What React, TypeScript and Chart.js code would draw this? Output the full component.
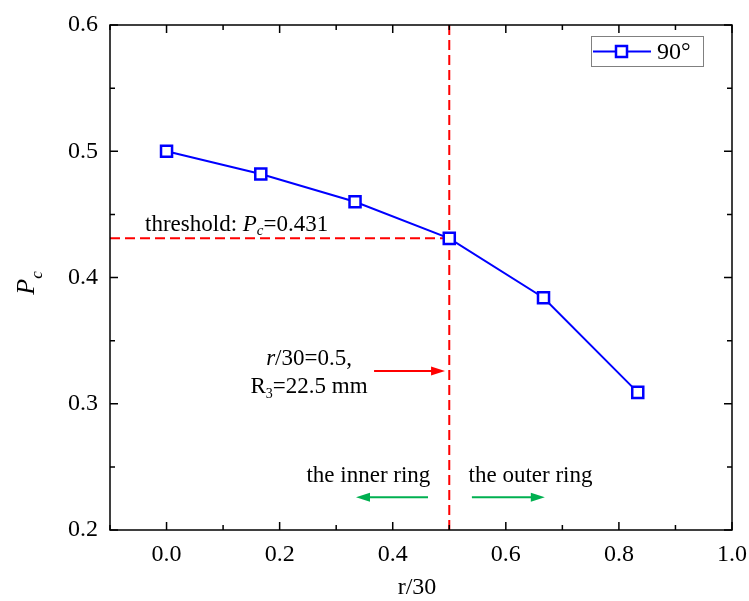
import React, { useEffect, useRef } from "react";
import { Chart, registerables } from "chart.js";

Chart.register(...registerables);

// ---- data ----
const xValues = [0, 1 / 6, 1 / 3, 0.5, 2 / 3, 5 / 6];
const pcValues = [0.5, 0.482, 0.46, 0.431, 0.384, 0.309];
const seriesLabel = "90°";
const xMajorTicks = [0, 0.2, 0.4, 0.6, 0.8, 1.0];
const xMinorTicks = [-0.1, 0.1, 0.3, 0.5, 0.7, 0.9];
const yMajorTicks = [0.2, 0.3, 0.4, 0.5, 0.6];
const yMinorTicks = [0.25, 0.35, 0.45, 0.55];
const thresholdValue = 0.431;
const boundaryX = 0.5;

const SERIF = '"Liberation Serif", "Times New Roman", serif';
const BLUE = "#0000ff";
const RED = "#ff0000";
const GREEN = "#00b050";
const ANN = 23;

type Run = { text: string; font: string; dy?: number };

function drawRuns(ctx: CanvasRenderingContext2D, runs: Run[], x: number, y: number, align: "left" | "center") {
  ctx.textBaseline = "alphabetic";
  ctx.textAlign = "left";
  let total = 0;
  const widths = runs.map((r) => {
    ctx.font = r.font;
    const w = ctx.measureText(r.text).width;
    total += w;
    return w;
  });
  let cx = align === "center" ? x - total / 2 : x;
  runs.forEach((r, i) => {
    ctx.font = r.font;
    ctx.fillText(r.text, cx, y + (r.dy || 0));
    cx += widths[i];
  });
}

function arrow(ctx: CanvasRenderingContext2D, x1: number, y1: number, x2: number, y2: number, color: string) {
  const dir = Math.sign(x2 - x1);
  const headLen = 14;
  const headHalf = 4.5;
  ctx.save();
  ctx.strokeStyle = color;
  ctx.fillStyle = color;
  ctx.lineWidth = 2;
  ctx.setLineDash([]);
  ctx.beginPath();
  ctx.moveTo(x1, y1);
  ctx.lineTo(x2 - dir * headLen * 0.8, y2);
  ctx.stroke();
  ctx.beginPath();
  ctx.moveTo(x2, y2);
  ctx.lineTo(x2 - dir * headLen, y2 - headHalf);
  ctx.lineTo(x2 - dir * headLen, y2 + headHalf);
  ctx.closePath();
  ctx.fill();
  ctx.restore();
}

const decorPlugin = {
  id: "decor",
  beforeDatasetsDraw(chart: any) {
    const { ctx, chartArea, scales } = chart;
    const xs = scales.x;
    const ys = scales.y;
    const px = xs.getPixelForValue(boundaryX);
    const py = ys.getPixelForValue(thresholdValue);
    ctx.save();
    ctx.strokeStyle = RED;
    ctx.lineWidth = 2;
    ctx.setLineDash([10, 5]);
    ctx.beginPath();
    ctx.moveTo(chartArea.left, py);
    ctx.lineTo(px, py);
    ctx.stroke();
    ctx.beginPath();
    ctx.moveTo(px, chartArea.top);
    ctx.lineTo(px, chartArea.bottom);
    ctx.stroke();
    ctx.restore();
  },
  afterDraw(chart: any) {
    const { ctx, chartArea, scales } = chart;
    const xs = scales.x;
    const ys = scales.y;
    const { left, right, top, bottom } = chartArea;
    ctx.save();
    // frame
    ctx.strokeStyle = "#000";
    ctx.lineWidth = 1.5;
    ctx.setLineDash([]);
    ctx.strokeRect(left, top, right - left, bottom - top);
    // ticks (inward, mirrored)
    const major = 8;
    const minor = 5;
    ctx.beginPath();
    const xt = (v: number, len: number) => {
      const p = xs.getPixelForValue(v);
      ctx.moveTo(p, bottom);
      ctx.lineTo(p, bottom - len);
      ctx.moveTo(p, top);
      ctx.lineTo(p, top + len);
    };
    const yt = (v: number, len: number) => {
      const p = ys.getPixelForValue(v);
      ctx.moveTo(left, p);
      ctx.lineTo(left + len, p);
      ctx.moveTo(right, p);
      ctx.lineTo(right - len, p);
    };
    xMajorTicks.forEach((v) => xt(v, major));
    xMinorTicks.forEach((v) => xt(v, minor));
    yMajorTicks.forEach((v) => yt(v, major));
    yMinorTicks.forEach((v) => yt(v, minor));
    ctx.stroke();

    ctx.fillStyle = "#000";
    // axis titles
    drawRuns(ctx, [{ text: "r/30", font: `24px ${SERIF}` }], (left + right) / 2 - 4, 594, "center");
    ctx.save();
    ctx.translate(34, 283);
    ctx.rotate(-Math.PI / 2);
    drawRuns(
      ctx,
      [
        { text: "P", font: `italic 26px ${SERIF}` },
        { text: "c", font: `italic 17px ${SERIF}`, dy: 8 },
      ],
      0,
      0,
      "center"
    );
    ctx.restore();

    // threshold label
    drawRuns(
      ctx,
      [
        { text: "threshold: ", font: `${ANN}px ${SERIF}` },
        { text: "P", font: `italic ${ANN}px ${SERIF}` },
        { text: "c", font: `italic 15px ${SERIF}`, dy: 4 },
        { text: "=0.431", font: `${ANN}px ${SERIF}` },
      ],
      xs.getPixelForValue(-0.038),
      ys.getPixelForValue(0.4368),
      "left"
    );

    // boundary annotation
    const annX = xs.getPixelForValue(0.252);
    drawRuns(
      ctx,
      [
        { text: "r", font: `italic ${ANN}px ${SERIF}` },
        { text: "/30=0.5,", font: `${ANN}px ${SERIF}` },
      ],
      annX,
      ys.getPixelForValue(0.3307),
      "center"
    );
    drawRuns(
      ctx,
      [
        { text: "R", font: `${ANN}px ${SERIF}` },
        { text: "3", font: `14px ${SERIF}`, dy: 5 },
        { text: "=22.5 mm", font: `${ANN}px ${SERIF}` },
      ],
      annX,
      ys.getPixelForValue(0.3085),
      "center"
    );
    const ay = ys.getPixelForValue(0.326);
    arrow(ctx, xs.getPixelForValue(0.367), ay, xs.getPixelForValue(0.4925), ay, RED);

    // ring labels
    const ringY = ys.getPixelForValue(0.238);
    drawRuns(ctx, [{ text: "the inner ring", font: `${ANN}px ${SERIF}` }], xs.getPixelForValue(0.357), ringY, "center");
    drawRuns(ctx, [{ text: "the outer ring", font: `${ANN}px ${SERIF}` }], xs.getPixelForValue(0.6437), ringY, "center");
    const gy = ys.getPixelForValue(0.226);
    arrow(ctx, xs.getPixelForValue(0.4624), gy, xs.getPixelForValue(0.335), gy, GREEN);
    arrow(ctx, xs.getPixelForValue(0.54), gy, xs.getPixelForValue(0.669), gy, GREEN);

    // legend
    const lx = right - 141;
    const lyTop = top + 11;
    ctx.strokeStyle = "#808080";
    ctx.lineWidth = 1;
    ctx.strokeRect(lx + 0.5, lyTop + 0.5, 112, 30);
    const ly = lyTop + 15.5;
    ctx.strokeStyle = BLUE;
    ctx.lineWidth = 2;
    ctx.beginPath();
    ctx.moveTo(lx + 2, ly);
    ctx.lineTo(lx + 60, ly);
    ctx.stroke();
    ctx.fillStyle = "#fff";
    ctx.lineWidth = 2.5;
    ctx.fillRect(lx + 25, ly - 5.5, 11, 11);
    ctx.strokeRect(lx + 25, ly - 5.5, 11, 11);
    ctx.fillStyle = "#000";
    ctx.textBaseline = "middle";
    ctx.textAlign = "left";
    ctx.font = `24px ${SERIF}`;
    ctx.fillText(seriesLabel, lx + 66, ly + 1);
    ctx.restore();
  },
};

export default function App() {
  const ref = useRef<HTMLCanvasElement | null>(null);
  useEffect(() => {
    if (!ref.current) return;
    const chart = new Chart(ref.current, {
      type: "scatter",
      data: {
        datasets: [
          {
            label: seriesLabel,
            data: xValues.map((x, i) => ({ x, y: pcValues[i] })),
            showLine: true,
            borderColor: BLUE,
            backgroundColor: "#ffffff",
            borderWidth: 2,
            pointStyle: "rect",
            pointRadius: 7.8,
            pointBorderWidth: 2.5,
            pointBorderColor: BLUE,
            pointBackgroundColor: "#ffffff",
          } as any,
        ],
      },
      options: {
        animation: false,
        responsive: false,
        devicePixelRatio: 1,
        layout: { padding: { top: 25, right: 17, left: 0, bottom: 0 } },
        plugins: { legend: { display: false }, tooltip: { enabled: false } },
        scales: {
          x: {
            type: "linear",
            min: -0.1,
            max: 1.0,
            grid: { display: false, drawTicks: false },
            border: { display: false },
            afterBuildTicks: (s: any) => {
              s.ticks = xMajorTicks.map((v) => ({ value: v }));
            },
            afterFit: (s: any) => {
              s.height = 71;
              s.paddingLeft = 0;
              s.paddingRight = 0;
            },
            ticks: {
              padding: 10,
              color: "#000",
              font: { family: SERIF, size: 24 },
              maxRotation: 0,
              autoSkip: false,
              callback: (v: any) => Number(v).toFixed(1),
            },
          },
          y: {
            type: "linear",
            min: 0.2,
            max: 0.6,
            grid: { display: false, drawTicks: false },
            border: { display: false },
            afterBuildTicks: (s: any) => {
              s.ticks = yMajorTicks.map((v) => ({ value: v }));
            },
            afterFit: (s: any) => {
              s.width = 110;
              s.paddingTop = 0;
              s.paddingBottom = 0;
            },
            ticks: {
              padding: 12,
              color: "#000",
              font: { family: SERIF, size: 24 },
              autoSkip: false,
              callback: (v: any) => Number(v).toFixed(1),
            },
          },
        },
      },
      plugins: [decorPlugin],
    });
    return () => chart.destroy();
  }, []);
  return (
    <div style={{ position: "absolute", left: 0, top: 0, width: 749, height: 601, background: "#fff" }}>
      <canvas ref={ref} width={749} height={601} style={{ width: 749, height: 601 }} />
    </div>
  );
}
